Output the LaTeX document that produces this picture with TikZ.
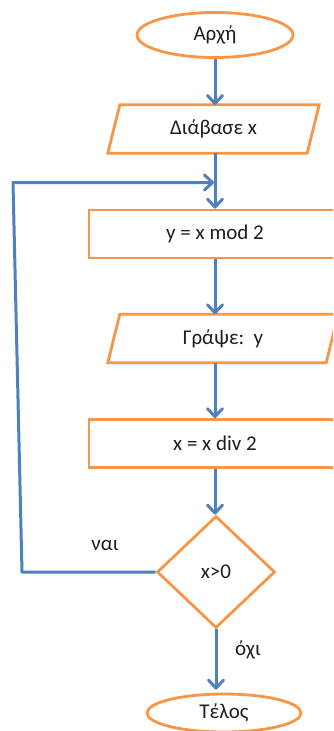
\documentclass[tikz,border=0pt]{standalone}
\usepackage{fontspec}
\setmainfont{Carlito}
\usetikzlibrary{arrows.meta,shapes.geometric,calc}
\definecolor{flowblue}{RGB}{79,129,189}
\definecolor{floworange}{RGB}{247,150,70}
\definecolor{flowtext}{RGB}{30,30,30}
\begin{document}
\begin{tikzpicture}[x=1pt,y=-1pt,
  every node/.style={text=flowtext, font=\fontsize{21}{24}\selectfont},
  outline/.style={draw=floworange, line width=2.8pt},
  terminal/.style={outline, ellipse, inner sep=0pt},
  process/.style={outline, rectangle, minimum width=252pt, minimum height=48pt, inner sep=0pt},
  iobox/.style={rectangle, minimum height=48pt, inner sep=0pt},
  decision/.style={outline, diamond, minimum width=118pt, minimum height=112pt, inner sep=0pt},
  flow/.style={draw=flowblue, line width=3pt, line join=round,
    -{Straight Barb[length=8pt,width=15pt,line cap=round,line join=round]}},
  lbl/.style={inner sep=0pt}
]
\useasboundingbox (0,0) rectangle (333,731);
\clip (0,0) rectangle (333,731);
\fill[white] (0,0) rectangle (333,731);

% start / end terminals
\node[terminal, minimum width=156pt, minimum height=45pt] (start) at (215,35) {Αρχή};
\node[terminal, minimum width=154pt, minimum height=38pt] (stop) at (224,713) {Τέλος};

% input / output boxes (parallelograms drawn around plain nodes)
\node[iobox, minimum width=199pt] (read) at (213.5,129) {Διάβασε x};
\node[iobox, minimum width=218pt] (write) at (223,338.5) {Γράψε:\ \ y};
\foreach \n in {read,write}{
  \draw[outline, line join=miter]
    ($(\n.south west)+(-6,0)$) -- ($(\n.south east)+(-6,0)$) --
    ($(\n.north east)+(6,0)$) -- ($(\n.north west)+(6,0)$) -- cycle;
}

% processing steps
\node[process] (mod) at (215,234) {y = x mod 2};
\node[process] (div) at (215,443.5) {x = x div 2};

% loop test
\node[decision] (test) at (216,572) {x>0};

% branch labels
\node[lbl] (yes) at (105,545) {ναι};
\node[lbl] (no) at (248,650) {όχι};

% loop-back route
\coordinate (loopA) at (22,572);
\coordinate (loopB) at (13,182.5);
\coordinate (join) at (214,182.5);

% connectors
\draw[flow] (start.south -| 215,0) -- (215,105);
\draw[flow] (215,153) -- (mod.north);
\draw[flow] (mod.south) -- (mod.south |- write.north);
\draw[flow] (mod.south |- write.south) -- (div.north);
\draw[flow] (div.south) -- (div.south |- test.north);
\draw[flow] (test.west) -- (loopA) -- (loopB) -- (join);
\draw[flow] (test.south) -- ($(test.south |- stop.north)+(0,-3)$);
\end{tikzpicture}
\end{document}
